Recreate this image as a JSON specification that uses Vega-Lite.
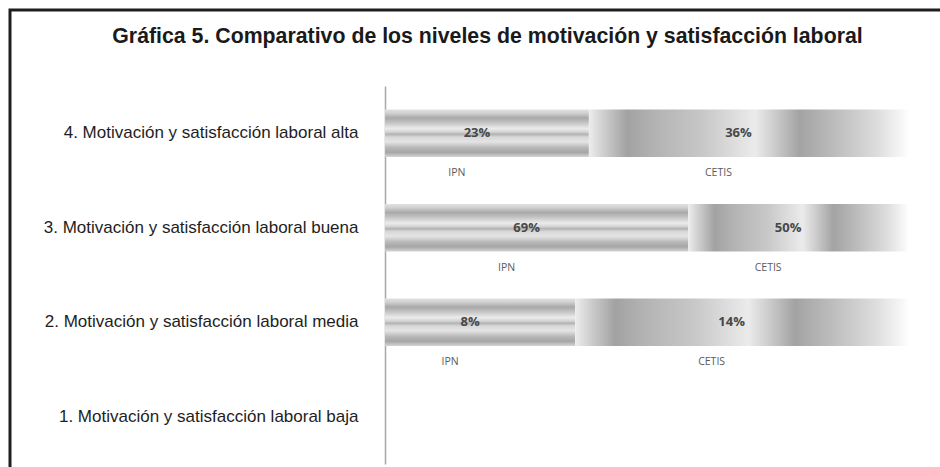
{
  "$schema": "https://vega.github.io/schema/vega-lite/v6.json",
  "autosize": "none",
  "padding": {"left": 10, "top": 10, "right": 0, "bottom": 0},
  "width": 935,
  "height": 462,
  "background": "white",
  "config": {
    "view": {"stroke": "#1e1e1e", "strokeWidth": 3},
    "font": "Liberation Sans"
  },
  "title": {
    "text": "Gráfica 5. Comparativo de los niveles de motivación y satisfacción laboral",
    "font": "Liberation Sans",
    "fontSize": 21.3,
    "fontWeight": "bold",
    "color": "#1a1a1a",
    "anchor": "middle",
    "dx": 10,
    "offset": -37
  },
  "data": {
    "values": [
      {"category": "4. Motivación y satisfacción laboral alta", "school": "IPN", "order": 1, "value": 0.23},
      {"category": "4. Motivación y satisfacción laboral alta", "school": "CETIS", "order": 2, "value": 0.36},
      {"category": "3. Motivación y satisfacción laboral buena", "school": "IPN", "order": 1, "value": 0.69},
      {"category": "3. Motivación y satisfacción laboral buena", "school": "CETIS", "order": 2, "value": 0.50},
      {"category": "2. Motivación y satisfacción laboral media", "school": "IPN", "order": 1, "value": 0.08},
      {"category": "2. Motivación y satisfacción laboral media", "school": "CETIS", "order": 2, "value": 0.14}
    ]
  },
  "transform": [
    {"stack": "value", "groupby": ["category"], "sort": [{"field": "order"}], "offset": "normalize", "as": ["x0", "x1"]}
  ],
  "encoding": {
    "y": {
      "field": "category",
      "type": "nominal",
      "sort": null,
      "scale": {
        "domain": [
          "4. Motivación y satisfacción laboral alta",
          "3. Motivación y satisfacción laboral buena",
          "2. Motivación y satisfacción laboral media",
          "1. Motivación y satisfacción laboral baja"
        ],
        "range": [76, 454],
        "paddingInner": 0.495,
        "paddingOuter": 0.2475
      },
      "axis": {
        "title": null,
        "orient": "left",
        "offset": -375,
        "ticks": false,
        "domainColor": "#a8a8a8",
        "domainWidth": 1.5,
        "labelFont": "Liberation Sans",
        "labelFontSize": 17,
        "labelColor": "#1e1e1e",
        "labelPadding": 27,
        "labelLimit": 400
      }
    }
  },
  "layer": [
    {
      "transform": [{"filter": "datum.school === 'IPN'"}],
      "mark": {
        "type": "bar",
        "fill": {
          "gradient": "linear",
          "x1": 0, "y1": 0, "x2": 0, "y2": 1,
          "stops": [
            {"offset": 0, "color": "#e2e2e2"},
            {"offset": 0.08, "color": "#d0d0d0"},
            {"offset": 0.18, "color": "#a9a9a9"},
            {"offset": 0.28, "color": "#c4c4c4"},
            {"offset": 0.4, "color": "#ebebeb"},
            {"offset": 0.47, "color": "#d6d6d6"},
            {"offset": 0.52, "color": "#b2b2b2"},
            {"offset": 0.58, "color": "#d8d8d8"},
            {"offset": 0.68, "color": "#e4e4e4"},
            {"offset": 0.8, "color": "#b8b8b8"},
            {"offset": 0.9, "color": "#a6a6a6"},
            {"offset": 1, "color": "#d6d6d6"}
          ]
        }
      },
      "encoding": {
        "x": {"field": "x0", "type": "quantitative", "scale": {"domain": [-0.717, 1.0707], "zero": false, "nice": false}, "axis": null},
        "x2": {"field": "x1"}
      }
    },
    {
      "transform": [{"filter": "datum.school === 'CETIS'"}],
      "mark": {
        "type": "bar",
        "fill": {
          "gradient": "linear",
          "x1": 0, "y1": 0, "x2": 1, "y2": 0,
          "stops": [
            {"offset": 0, "color": "#ededed"},
            {"offset": 0.04, "color": "#d2d2d2"},
            {"offset": 0.12, "color": "#a2a2a2"},
            {"offset": 0.2, "color": "#b2b2b2"},
            {"offset": 0.36, "color": "#c8c8c8"},
            {"offset": 0.52, "color": "#ebebeb"},
            {"offset": 0.58, "color": "#cdcdcd"},
            {"offset": 0.66, "color": "#a3a3a3"},
            {"offset": 0.76, "color": "#bababa"},
            {"offset": 0.9, "color": "#dcdcdc"},
            {"offset": 1, "color": "#fdfdfd"}
          ]
        }
      },
      "encoding": {
        "x": {"field": "x0", "type": "quantitative", "scale": {"domain": [-0.717, 1.0707], "zero": false, "nice": false}, "axis": null},
        "x2": {"field": "x1"}
      }
    },
    {
      "mark": {"type": "text", "font": "Open Sans", "fontSize": 13, "fontWeight": "bold", "color": "#474747", "baseline": "middle", "dx": -10},
      "encoding": {
        "x": {"field": "value", "type": "quantitative", "stack": "normalize", "bandPosition": 0.5, "scale": {"domain": [-0.717, 1.0707], "zero": false, "nice": false}, "axis": null},
        "order": {"field": "order"},
        "text": {"field": "value", "type": "quantitative", "format": ".0%"}
      }
    },
    {
      "mark": {"type": "text", "font": "Open Sans", "fontSize": 10.5, "color": "#5a5a5a", "baseline": "middle", "dy": 40, "dx": -30},
      "encoding": {
        "x": {"field": "value", "type": "quantitative", "stack": "normalize", "bandPosition": 0.5, "scale": {"domain": [-0.717, 1.0707], "zero": false, "nice": false}, "axis": null},
        "order": {"field": "order"},
        "text": {"field": "school", "type": "nominal"}
      }
    }
  ]
}
